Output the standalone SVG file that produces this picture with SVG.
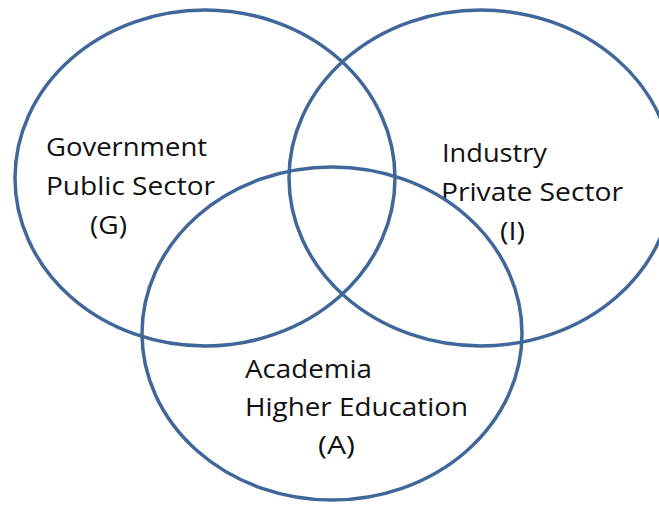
<svg xmlns="http://www.w3.org/2000/svg" width="659" height="505" viewBox="0 0 659 505">
<style>
.ring{fill:none;stroke:#41679a;stroke-width:3.5}
.lbl{font-family:"Open Sans",Lato,"Liberation Sans",sans-serif;font-size:25px;fill:#111}
</style>
<rect width="659" height="505" fill="#fff"/>
<g id="government">
<ellipse class="ring" cx="205" cy="178" rx="190" ry="168"/>
<text class="lbl" x="46" y="156" textLength="161" lengthAdjust="spacingAndGlyphs">Government</text>
<text class="lbl" x="46" y="195" textLength="169" lengthAdjust="spacingAndGlyphs">Public Sector</text>
<text class="lbl" x="90" y="234" textLength="37" lengthAdjust="spacingAndGlyphs">(G)</text>
</g>
<g id="industry">
<ellipse class="ring" cx="481" cy="178" rx="192" ry="168"/>
<text class="lbl" x="442" y="162" textLength="105" lengthAdjust="spacingAndGlyphs">Industry</text>
<text class="lbl" x="441" y="201" textLength="182" lengthAdjust="spacingAndGlyphs">Private Sector</text>
<text class="lbl" x="500" y="240" textLength="25" lengthAdjust="spacingAndGlyphs">(I)</text>
</g>
<g id="academia">
<ellipse class="ring" cx="332" cy="333.5" rx="190" ry="166.5"/>
<text class="lbl" x="245" y="378" textLength="127" lengthAdjust="spacingAndGlyphs">Academia</text>
<text class="lbl" x="245" y="416" textLength="223" lengthAdjust="spacingAndGlyphs">Higher Education</text>
<text class="lbl" x="318" y="454" textLength="37" lengthAdjust="spacingAndGlyphs">(A)</text>
</g>
<g id="connectors"/>
</svg>
